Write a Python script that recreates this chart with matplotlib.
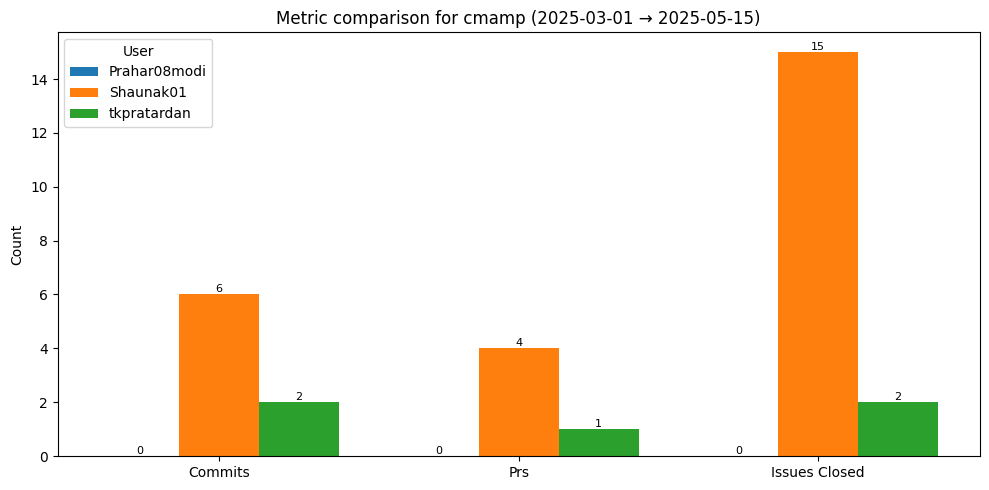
import matplotlib
matplotlib.use("Agg")
import matplotlib.pyplot as plt
import numpy as np

metrics = ["Commits", "Prs", "Issues Closed"]
users = ["Prahar08modi", "Shaunak01", "tkpratardan"]
values = {
    "Prahar08modi": [0, 0, 0],
    "Shaunak01": [6, 4, 15],
    "tkpratardan": [2, 1, 2],
}

W, H = 989, 490
fig, ax = plt.subplots(figsize=(W / 100, H / 100), dpi=100)
x = np.arange(len(metrics))
width = 0.8 / len(users)
for i, u in enumerate(users):
    bars = ax.bar(x + (i - 1) * width, values[u], width, label=u)
    ax.bar_label(bars, fontsize=8)

ax.set_xticks(x)
ax.set_xticklabels(metrics)
ax.set_ylabel("Count")
ax.set_title("Metric comparison for cmamp (2025-03-01 → 2025-05-15)")
ax.legend(title="User", loc="upper left")
fig.subplots_adjust(left=57.5 / W, right=980 / W, top=1 - 32 / H, bottom=1 - 456 / H)
fig.savefig("out.png", dpi=100)
